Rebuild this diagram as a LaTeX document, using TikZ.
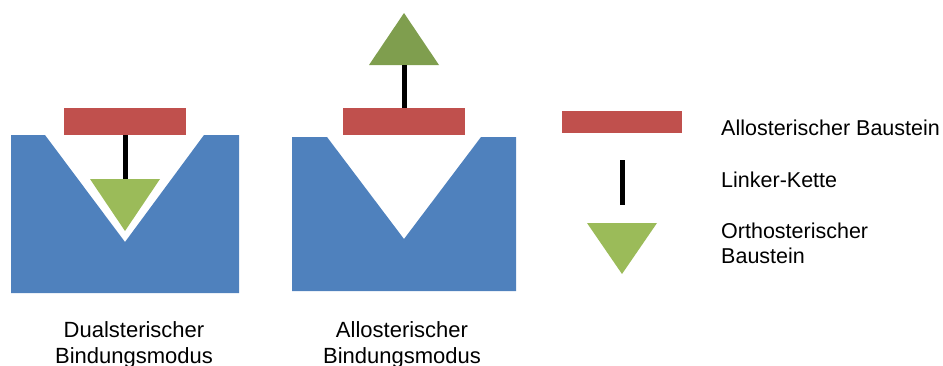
\documentclass[tikz,border=0pt]{standalone}
\usepackage{fontspec}
\setmainfont{Liberation Sans}
\definecolor{pblue}{HTML}{4F81BD}
\definecolor{pred}{HTML}{C0504D}
\definecolor{pgreen}{HTML}{9BBB59}
\definecolor{pgreendark}{HTML}{7F9E4E}
\begin{document}
\begin{tikzpicture}[x=1pt,y=-1pt,
  redbar/.style={fill=pred,draw=none,inner sep=0pt,minimum width=122pt,minimum height=27pt},
  linker/.style={line width=5pt,black},
  lbl/.style={inner sep=0pt,anchor=base,align=center,font=\fontsize{22}{26}\selectfont},
  legtxt/.style={inner sep=0pt,anchor=base west,align=left,font=\fontsize{21.5}{25}\selectfont}]
\useasboundingbox (0,0) rectangle (943,365);
% Dualsterischer block
\fill[pblue] (11,135) -- (45,135) -- (125,242) -- (204,135) -- (239,135) -- (239,293) -- (11,293) -- cycle;
\node[redbar] (r1) at (125,121.5) {};
\coordinate (t1top) at (125,179);
\fill[pgreen] (90,179) -- (160,179) -- (125,231) -- cycle;
\draw[linker] (r1.south) -- (t1top);
% Allosterischer block
\fill[pblue] (292,137) -- (327,137) -- (404,239) -- (481,137) -- (516,137) -- (516,291) -- (292,291) -- cycle;
\node[redbar] (r2) at (404,121.5) {};
\coordinate (t2base) at (404,65);
\fill[pgreendark] (369,65) -- (439,65) -- (404,13) -- cycle;
\draw[linker] (r2.north) -- (t2base);
% Legend
\node[redbar,minimum width=120pt,minimum height=22pt] (r3) at (622,122) {};
\coordinate (l3a) at (622,160);
\coordinate (l3b) at (622,205);
\draw[linker] (l3a) -- (l3b);
\fill[pgreen] (587,223) -- (657,223) -- (622,274) -- cycle;
\node[legtxt] (lt1) at (721,135) {Allosterischer Baustein};
\node[legtxt] (lt2) at (721,187) {Linker-Kette};
\node[legtxt] (lt3) at (721,263) {Orthosterischer\\Baustein};
% Captions
\node[lbl] (c1) at (134,363) {Dualsterischer\\Bindungsmodus};
\node[lbl] (c2) at (402,363) {Allosterischer\\Bindungsmodus};
\end{tikzpicture}
\end{document}
